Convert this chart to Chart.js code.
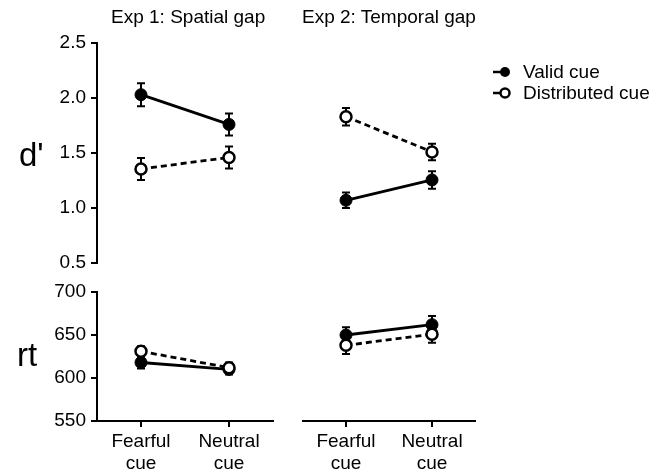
<!DOCTYPE html>
<html>
<head>
<meta charset="utf-8">
<script src="https://cdn.jsdelivr.net/npm/chart.js@4.4.0/dist/chart.umd.min.js"></script>
<style>
  body { margin: 0; background: #fff; font-family: "Liberation Sans", Arial, sans-serif; }
  #wrap { position: relative; width: 666px; height: 473px; overflow: hidden; }
  #wrap canvas { position: absolute; left: 0; top: 0; }
  .txt { position: absolute; color: #000; white-space: nowrap; }
  .title { font-size: 19px; top: 6px; }
  .ylab { font-size: 33px; }
  #legend { position: absolute; left: 492px; top: 61px; font-size: 19px; }
  #legend .row { display: flex; align-items: center; height: 21px; }
  #legend svg { margin-right: 11px; }
</style>
</head>
<body>
<div id="wrap">
  <canvas id="dTop1" width="666" height="473"></canvas>
  <canvas id="dTop2" width="666" height="473"></canvas>
  <canvas id="rtBot1" width="666" height="473"></canvas>
  <canvas id="rtBot2" width="666" height="473"></canvas>
  <div class="txt title" style="left:111px">Exp 1: Spatial gap</div>
  <div class="txt title" style="left:302px">Exp 2: Temporal gap</div>
  <div class="txt ylab" style="left:19px;top:136px">d'</div>
  <div class="txt ylab" style="left:17px;top:336px">rt</div>
  <div id="legend"></div>
</div>
<script>
const categories = [["Fearful", "cue"], ["Neutral", "cue"]];
const seriesLabels = ["Valid cue", "Distributed cue"];
const dTicks = [0.5, 1.0, 1.5, 2.0, 2.5];
const rtTicks = [550, 600, 650, 700];

// d' values (mean, sem)
const exp1DValid = [2.03, 1.76];
const exp1DValidErr = [0.105, 0.10];
const exp1DDist = [1.355, 1.46];
const exp1DDistErr = [0.10, 0.10];
const exp2DValid = [1.07, 1.255];
const exp2DValidErr = [0.07, 0.08];
const exp2DDist = [1.83, 1.51];
const exp2DDistErr = [0.08, 0.075];

// reaction times
const exp1RtValid = [618, 610];
const exp1RtValidErr = [7, 6];
const exp1RtDist = [631, 612];
const exp1RtDistErr = [6, 6];
const exp2RtValid = [650, 662];
const exp2RtValidErr = [9, 10];
const exp2RtDist = [638, 651];
const exp2RtDistErr = [10, 10];

Chart.defaults.font.family = "'Liberation Sans', Arial, sans-serif";
Chart.defaults.color = "#000";

const $ = (id) => document.getElementById(id);

// draws the error bars of a dataset just before its line and points
const errorBars = {
  id: "errorBars",
  beforeDatasetDraw(chart, args) {
    const ds = chart.data.datasets[args.index];
    if (!ds.errors) return;
    const y = chart.scales.y;
    const ctx = chart.ctx;
    ctx.save();
    ctx.strokeStyle = "#000";
    ctx.lineWidth = 2;
    args.meta.data.forEach((pt, i) => {
      const top = y.getPixelForValue(ds.data[i] + ds.errors[i]);
      const bot = y.getPixelForValue(ds.data[i] - ds.errors[i]);
      ctx.beginPath();
      ctx.moveTo(pt.x, top);
      ctx.lineTo(pt.x, bot);
      ctx.moveTo(pt.x - 4, top);
      ctx.lineTo(pt.x + 4, top);
      ctx.moveTo(pt.x - 4, bot);
      ctx.lineTo(pt.x + 4, bot);
      ctx.stroke();
    });
    ctx.restore();
  },
};

function series(valid, validErr, dist, distErr) {
  return [
    {
      label: seriesLabels[0],
      data: valid,
      errors: validErr,
      borderColor: "#000",
      borderWidth: 2.8,
      pointRadius: 6,
      pointBackgroundColor: "#000",
      pointBorderColor: "#000",
      pointBorderWidth: 1,
      order: 1,
    },
    {
      label: seriesLabels[1],
      data: dist,
      errors: distErr,
      borderColor: "#000",
      borderWidth: 2.8,
      borderDash: [6, 4],
      pointRadius: 5.5,
      pointBackgroundColor: "#fff",
      pointBorderColor: "#000",
      pointBorderWidth: 2.5,
      order: 0,
    },
  ];
}

function yAxis(show, ticks) {
  return {
    display: show,
    min: ticks[0],
    max: ticks[ticks.length - 1],
    afterBuildTicks: (scale) => {
      scale.ticks = ticks.map((v) => ({ value: v }));
    },
    afterFit: (scale) => {
      scale.width = show ? 50 : 0;
    },
    ticks: {
      font: { size: 19 },
      padding: 5,
      callback: (v) => (ticks === dTicks ? Number(v).toFixed(1) : v),
    },
    grid: { drawOnChartArea: false, drawTicks: true, tickLength: 6, color: "#000", lineWidth: 2 },
    border: { display: true, color: "#000", width: 2 },
  };
}

function xAxis(show) {
  return {
    display: show,
    offset: true,
    afterFit: (scale) => {
      scale.height = show ? 50 : 0;
    },
    ticks: { font: { size: 19, lineHeight: 1.15 }, padding: 4, maxRotation: 0 },
    grid: { offset: false, drawOnChartArea: false, drawTicks: true, tickLength: 6, color: "#000", lineWidth: 2 },
    border: { display: true, color: "#000", width: 2 },
  };
}

function makeChart(id, datasets, opts) {
  return new Chart($(id), {
    type: "line",
    data: { labels: categories, datasets },
    options: {
      responsive: false,
      animation: false,
      devicePixelRatio: 1,
      layout: { padding: opts.padding },
      plugins: { legend: { display: false }, tooltip: { enabled: false } },
      scales: {
        x: xAxis(opts.showX),
        y: yAxis(opts.showY, opts.ticks),
      },
    },
    plugins: [errorBars],
  });
}

makeChart("dTop1", series(exp1DValid, exp1DValidErr, exp1DDist, exp1DDistErr), {
  padding: { left: 47, right: 393, top: 43, bottom: 210 },
  showX: false, showY: true, ticks: dTicks,
});
makeChart("dTop2", series(exp2DValid, exp2DValidErr, exp2DDist, exp2DDistErr), {
  padding: { left: 303, right: 191, top: 43, bottom: 210 },
  showX: false, showY: false, ticks: dTicks,
});
makeChart("rtBot1", series(exp1RtValid, exp1RtValidErr, exp1RtDist, exp1RtDistErr), {
  padding: { left: 47, right: 393, top: 292, bottom: 2 },
  showX: true, showY: true, ticks: rtTicks,
});
makeChart("rtBot2", series(exp2RtValid, exp2RtValidErr, exp2RtDist, exp2RtDistErr), {
  padding: { left: 303, right: 191, top: 292, bottom: 2 },
  showX: true, showY: false, ticks: rtTicks,
});

// legend
const legendIcons = [
  '<svg width="20" height="14"><line x1="1" y1="7" x2="12" y2="7" stroke="#000" stroke-width="2.5"/><circle cx="13" cy="7" r="5" fill="#000"/></svg>',
  '<svg width="20" height="14"><line x1="1" y1="7" x2="8" y2="7" stroke="#000" stroke-width="2.5"/><circle cx="13" cy="7" r="4.5" fill="#fff" stroke="#000" stroke-width="2.5"/></svg>',
];
$("legend").innerHTML = seriesLabels
  .map((label, i) => `<div class="row">${legendIcons[i]}<span>${label}</span></div>`)
  .join("");
</script>
</body>
</html>
